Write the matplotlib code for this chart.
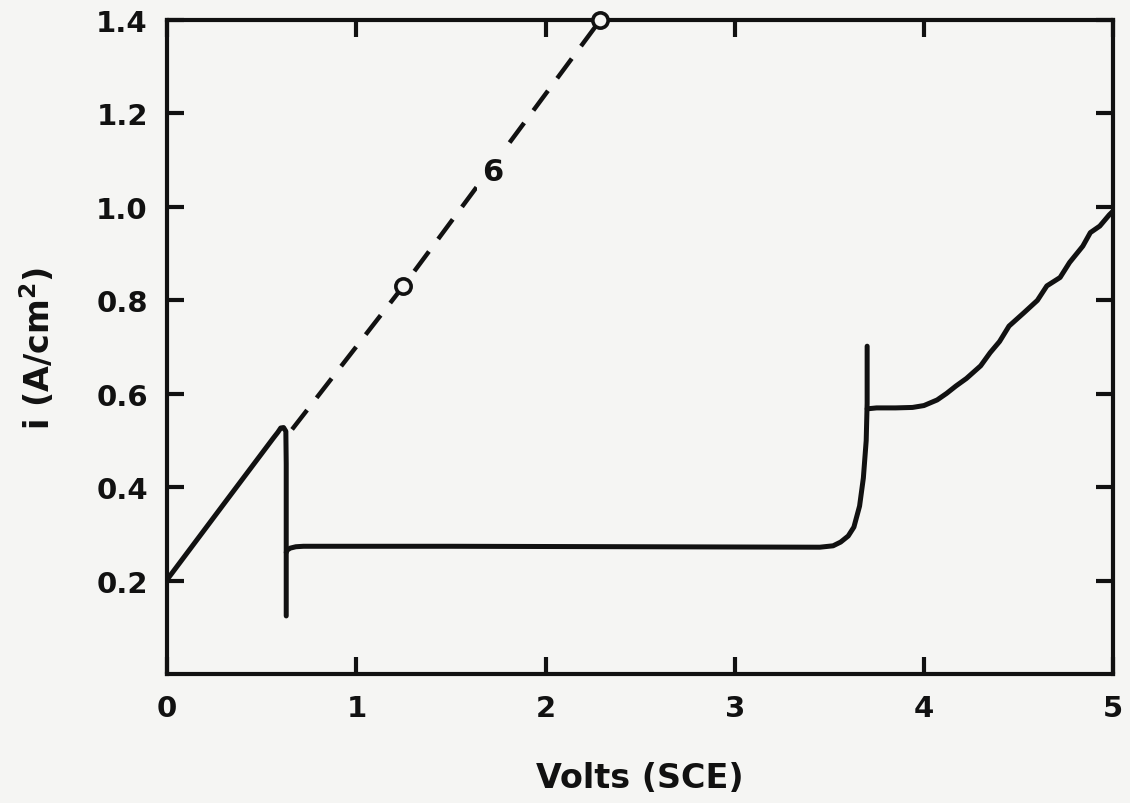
import numpy as np
from matplotlib import pyplot as plt

# polarization curve (V vs SCE, A/cm^2)
rise_v = [0.0, 0.30, 0.56, 0.585, 0.600, 0.615, 0.627, 0.629, 0.629]
rise_i = [0.203, 0.365, 0.505, 0.518, 0.527, 0.528, 0.520, 0.45, 0.125]

plateau_v = [0.629, 0.635, 0.650, 0.680, 0.720, 1.5, 2.5, 3.45, 3.52, 3.56, 3.60, 3.63, 3.66, 3.68, 3.695, 3.70, 3.70]
plateau_i = [0.261, 0.266, 0.270, 0.273, 0.274, 0.274, 0.273, 0.272, 0.275, 0.283, 0.296, 0.315, 0.36, 0.42, 0.50, 0.58, 0.702]

upper_v = [3.70, 3.75, 3.85, 3.94, 4.00, 4.07, 4.12, 4.17, 4.225, 4.30, 4.35, 4.40, 4.45,
           4.53, 4.60, 4.65, 4.72, 4.77, 4.84, 4.88, 4.93, 4.98, 5.0]
upper_i = [0.568, 0.570, 0.570, 0.571, 0.575, 0.587, 0.601, 0.617, 0.633, 0.660, 0.688, 0.712, 0.745,
           0.774, 0.800, 0.831, 0.849, 0.881, 0.916, 0.945, 0.959, 0.983, 0.991]

# dashed curve 6 with its two measured points
dash_v = [0.66, 1.247, 2.29]
dash_i = [0.524, 0.830, 1.400]
pts_v = [1.247, 2.29]
pts_i = [0.830, 1.400]

xticks = [0, 1, 2, 3, 4, 5]
yticks = [0.2, 0.4, 0.6, 0.8, 1.0, 1.2, 1.4]
ytick_labels = ["0.2", "0.4", "0.6", "0.8", "1.0", "1.2", "1.4"]

bg = "#f5f5f3"
ink = "#111111"

plt.rcParams["font.weight"] = "bold"
plt.rcParams["axes.labelweight"] = "bold"

fig = plt.figure(figsize=(11.3, 8.04), dpi=100, facecolor=bg)
ax = fig.add_axes([0.148, 0.160, 0.837, 0.814], facecolor=bg)

lw = 3.6
for v, i in [(rise_v, rise_i), (plateau_v, plateau_i), (upper_v, upper_i)]:
    ax.plot(v, i, color=ink, lw=lw, solid_joinstyle="round", solid_capstyle="round")

ax.plot(dash_v, dash_i, color=ink, lw=3.2, ls=(0, (5.5, 3.5)), dash_capstyle="butt")
ax.plot(pts_v, pts_i, ls="none", marker="o", ms=11, mfc=bg, mec=ink, mew=2.6, clip_on=False, zorder=5)
# label sits in a gap of the dashed line
ax.text(1.72, 1.076, "6", fontsize=22, ha="center", va="center", color=ink, zorder=6,
        bbox=dict(boxstyle="square,pad=0.15", fc=bg, ec="none"))

ax.set_xlim(0, 5)
ax.set_ylim(0, 1.4)
ax.set_xticks(xticks)
ax.set_yticks(yticks)
ax.set_yticklabels(ytick_labels)
ax.tick_params(direction="in", length=12, width=3, color=ink, labelsize=21, pad=14,
               top=True, right=True, labelcolor=ink)
for s in ax.spines.values():
    s.set_linewidth(3)
    s.set_color(ink)

ax.set_xlabel("Volts (SCE)", fontsize=24, labelpad=28, color=ink)
ax.set_ylabel("i (A/cm$^\\mathbf{2}$)", fontsize=24, labelpad=28, color=ink)

fig.savefig("out.png", dpi=100, facecolor=bg)
